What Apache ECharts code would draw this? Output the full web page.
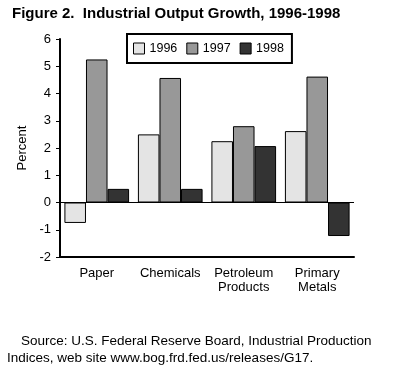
<!DOCTYPE html>
<html><head><meta charset="utf-8">
<script src="https://cdn.jsdelivr.net/npm/echarts@6/dist/echarts.min.js"></script>
<style>html,body{margin:0;padding:0;background:#fff}#c{width:400px;height:367px}</style>
</head><body><div id="c"></div>
<script>
var categories = ['Paper', 'Chemicals', 'Petroleum\nProducts', 'Primary\nMetals'];
var seriesNames = ['1996', '1997', '1998'];
var values1996 = [-0.75, 2.5, 2.25, 2.62];
var values1997 = [5.25, 4.57, 2.8, 4.62];
var values1998 = [0.5, 0.5, 2.07, -1.23];
var yTicks = [-2, -1, 0, 1, 2, 3, 4, 5, 6];
var colors = ['#e4e4e4', '#989898', '#333333'];
var titleText = 'Figure 2.  Industrial Output Growth, 1996-1998';
var sourceLine1 = 'Source: U.S. Federal Reserve Board, Industrial Production';
var sourceLine2 = 'Indices, web site www.bog.frd.fed.us/releases/G17.';

var font = 'Liberation Sans, Arial, sans-serif';
var chart = echarts.init(document.getElementById('c'), null, {renderer: 'canvas'});
var data = [values1996, values1997, values1998];
var series = data.map(function (d, i) {
  var s = {
    name: seriesNames[i], type: 'bar', data: d, barGap: '0%', barCategoryGap: '12%',
    itemStyle: {color: colors[i], borderColor: '#000', borderWidth: 1},
    animation: false
  };
  if (i === 0) {
    s.markLine = {
      silent: true, symbol: 'none', label: {show: false},
      lineStyle: {color: '#000', width: 1, type: 'solid'},
      data: [{yAxis: 0}], animation: false
    };
  }
  return s;
});
chart.setOption({
  animation: false,
  textStyle: {fontFamily: font},
  title: {
    text: titleText, left: 7, top: 1,
    textStyle: {fontFamily: font, fontWeight: 'bold', fontSize: 15, color: '#000'}
  },
  legend: {
    data: seriesNames, left: 127, top: 34, orient: 'horizontal', icon: 'rect',
    borderColor: '#000', borderWidth: 2, padding: [8, 8, 8, 6],
    itemWidth: 11, itemHeight: 11, itemGap: 9,
    textStyle: {fontFamily: font, fontSize: 12.5, color: '#000', padding: [0, 0, 0, 0]},
    itemStyle: {borderColor: '#000', borderWidth: 1}
  },
  grid: {left: 60, right: 46, top: 39, bottom: 110},
  xAxis: {
    type: 'category', data: categories,
    axisLine: {onZero: false, lineStyle: {color: '#000', width: 2}},
    axisTick: {alignWithLabel: true, length: 4, lineStyle: {color: '#000', width: 1}},
    axisLabel: {interval: 0, color: '#000', fontSize: 13, fontFamily: font, margin: 9, lineHeight: 14}
  },
  yAxis: {
    type: 'value', min: yTicks[0], max: yTicks[yTicks.length - 1], interval: 1,
    name: 'Percent', nameLocation: 'middle', nameGap: 24,
    nameTextStyle: {color: '#000', fontSize: 13, fontFamily: font},
    axisLine: {show: true, lineStyle: {color: '#000', width: 2}},
    axisTick: {show: true, length: 4, lineStyle: {color: '#000', width: 1}},
    axisLabel: {color: '#000', fontSize: 13, fontFamily: font, margin: 9},
    splitLine: {show: false}
  },
  graphic: [{
    type: 'text', left: 21, top: 334,
    style: {text: sourceLine1, font: '13.5px ' + font, fill: '#000'}
  }, {
    type: 'text', left: 7, top: 351,
    style: {text: sourceLine2, font: '13.5px ' + font, fill: '#000'}
  }],
  series: series
});
</script></body></html>
